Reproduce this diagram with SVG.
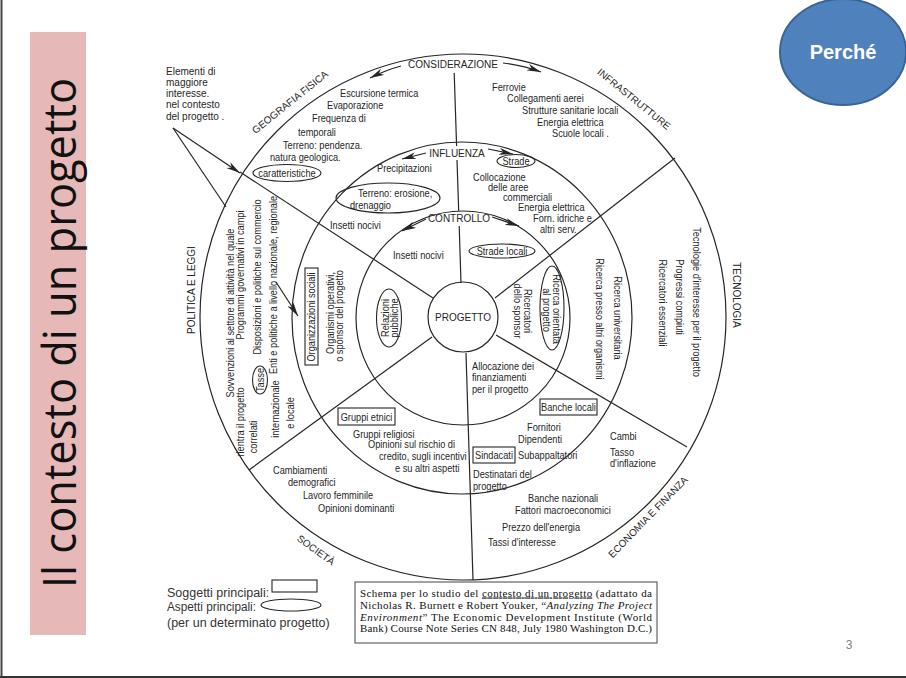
<svg xmlns="http://www.w3.org/2000/svg" width="906" height="678" viewBox="0 0 906 678">
<defs>
<style>
.n{font-family:"Liberation Sans",Arial,sans-serif;font-size:10.6px;fill:#262626}
.c{font-family:"Liberation Sans",Arial,sans-serif;font-size:10px;fill:#262626}
.m{text-anchor:middle}
.ln{fill:none;stroke:#262626;stroke-width:1.2}
.sh{fill:none;stroke:#262626;stroke-width:1.1}
.lg{font-family:"Liberation Sans",Arial,sans-serif;font-size:12.5px;fill:#333}
.cit{font-family:"Liberation Serif","Times New Roman",serif;font-size:11px;fill:#111}
</style>
<marker id="ah" viewBox="0 0 14 7" refX="14" refY="3.5" markerWidth="14" markerHeight="7" markerUnits="userSpaceOnUse" orient="auto"><path d="M0,0 L14,3.5 L0,7 L4,3.5 z" fill="#262626"/></marker>
</defs>
<rect width="906" height="678" fill="#fff"/>
<line x1="1.5" y1="0" x2="1.5" y2="678" stroke="#444" stroke-width="2"/>
<rect x="0" y="676" width="906" height="2" fill="#333"/>

<g id="title">
<rect x="30" y="32" width="56" height="603" fill="#e6b9b8"/>
<text transform="translate(76,333) rotate(-90)" text-anchor="middle" font-family="'Open Sans','Liberation Sans',sans-serif" font-size="45" fill="#111" textLength="510" lengthAdjust="spacingAndGlyphs">Il contesto di un progetto</text>
</g>

<g id="perche">
<ellipse cx="843" cy="52" rx="63" ry="53" fill="#4f81bd" stroke="#3a6495" stroke-width="2"/>
<text x="843" y="59" text-anchor="middle" font-family="'Liberation Sans',Arial,sans-serif" font-weight="bold" font-size="20" fill="#fff">Perché</text>
</g>

<g id="rings">
<circle cx="463" cy="317" r="263" class="ln"/>
<ellipse cx="462" cy="318" rx="170" ry="176" class="ln"/>
<circle cx="463" cy="318" r="107" class="ln"/>
</g>

<g id="connectors">
<path class="ln" d="M454.2,73 L456.6,146 M457,160 L458.7,211 M459.2,226 L461,283"/>
<path class="ln" d="M466,353 L473,580"/>
<path class="ln" d="M495,298 L675,158"/>
<path class="ln" d="M496,335 L687,447"/>
<path class="ln" d="M433,298 L240,172"/>
<path class="ln" d="M432,337 L249,470"/>
<path class="ln" d="M401,66 Q386,70 370,78" marker-end="url(#ah)"/>
<path class="ln" d="M503,63 Q522,65 541,72" marker-end="url(#ah)"/>
<path class="ln" d="M426,153 L402,159" marker-end="url(#ah)"/>
<path class="ln" d="M488,149 L513,154" marker-end="url(#ah)"/>
<path class="ln" d="M426,219 L402,231" marker-end="url(#ah)"/>
<path class="ln" d="M492,217 L519,226" marker-end="url(#ah)"/>
<path class="ln" d="M173,128 L240,173" marker-end="url(#ah)"/>
<path class="ln" d="M173,128 L226,207"/>
<path class="ln" d="M276,282 L298,316" marker-end="url(#ah)"/>
</g>

<g id="labels-rings">
<text class="c m" x="453" y="68" font-size="10.5">CONSIDERAZIONE</text>
<text class="c m" x="457" y="156.5" font-size="10.5">INFLUENZA</text>
<text class="c m" x="459" y="222" font-size="10.5">CONTROLLO</text>
</g>

<g id="progetto">
<circle cx="463" cy="317" r="35" class="ln" fill="#fff"/>
<text class="c m" x="463" y="321" font-size="10.5">PROGETTO</text>
</g>

<g id="note">
<text class="c" x="166" y="75">Elementi di</text>
<text class="c" x="166" y="86">maggiore</text>
<text class="c" x="166" y="97">interesse.</text>
<text class="c" x="166" y="108">nel contesto</text>
<text class="c" x="166" y="119.5">del progetto .</text>
</g>

<g id="geografia-fisica">
<text class="c m" transform="translate(290,102) rotate(-38.8)" y="3.5">GEOGRAFIA FISICA</text>
<text class="n" transform="translate(340,96.5) scale(.87,1)">Escursione termica</text>
<text class="n" transform="translate(327,108.5) scale(.87,1)">Evaporazione</text>
<text class="n" transform="translate(312,121.5) scale(.87,1)">Frequenza di</text>
<text class="n" transform="translate(298,135.5) scale(.87,1)">temporali</text>
<text class="n" transform="translate(283,148.5) scale(.87,1)">Terreno: pendenza.</text>
<text class="n" transform="translate(270,160.5) scale(.87,1)">natura geologica.</text>
<ellipse cx="287" cy="173" rx="34" ry="8.5" class="sh"/>
<text class="n m" transform="translate(287,176.5) scale(.87,1)">caratteristiche</text>
<text class="n" transform="translate(377,171.5) scale(.87,1)">Precipitazioni</text>
<ellipse cx="388" cy="198" rx="52" ry="15" class="sh"/>
<text class="n" transform="translate(358,196.5) scale(.87,1)">Terreno: erosione,</text>
<text class="n" transform="translate(350,208.5) scale(.87,1)">drenaggio</text>
<text class="n" transform="translate(330,228.5) scale(.87,1)">Insetti nocivi</text>
<text class="n" transform="translate(393,259) scale(.87,1)">Insetti nocivi</text>
</g>

<g id="infrastrutture">
<text class="c m" transform="translate(634,99) rotate(38.9)" y="3.5">INFRASTRUTTURE</text>
<text class="n" transform="translate(492,90.5) scale(.87,1)">Ferrovie</text>
<text class="n" transform="translate(507,101.5) scale(.87,1)">Collegamenti aerei</text>
<text class="n" transform="translate(522,113.5) scale(.87,1)">Strutture sanitarie locali</text>
<text class="n" transform="translate(537,125.5) scale(.87,1)">Energia elettrica</text>
<text class="n" transform="translate(552,136.5) scale(.87,1)">Scuole locali .</text>
<ellipse cx="516" cy="161" rx="19" ry="6.5" class="sh"/>
<text class="n m" transform="translate(516,164.5) scale(.87,1)">Strade</text>
<text class="n" transform="translate(473,180.5) scale(.87,1)">Collocazione</text>
<text class="n" transform="translate(488,190.5) scale(.87,1)">delle aree</text>
<text class="n" transform="translate(503,200.5) scale(.87,1)">commerciali</text>
<text class="n" transform="translate(518,210.5) scale(.87,1)">Energia elettrica</text>
<text class="n" transform="translate(533,221.5) scale(.87,1)">Forn. idriche e</text>
<text class="n" transform="translate(540,232.5) scale(.87,1)">altri serv.</text>
<ellipse cx="502" cy="251" rx="33" ry="7" class="sh"/>
<text class="n m" transform="translate(502,254.5) scale(.87,1)">Strade locali</text>
</g>

<g id="tecnologia">
<text class="c m" transform="translate(736,295) rotate(90)" y="3.5">TECNOLOGIA</text>
<text class="n m" transform="translate(528,311) rotate(90) scale(.87,1)" y="3.5">Ricercatori</text>
<text class="n m" transform="translate(518,311) rotate(90) scale(.87,1)" y="3.5">dello sponsor</text>
<ellipse cx="552" cy="308" rx="12" ry="42" class="sh"/>
<text class="n m" transform="translate(557,309) rotate(90) scale(.87,1)" y="3.5">Ricerca orientata</text>
<text class="n m" transform="translate(547,310) rotate(90) scale(.87,1)" y="3.5">al progetto</text>
<text class="n m" transform="translate(618,318) rotate(90) scale(.87,1)" y="3.5">Ricerca universitaria</text>
<text class="n m" transform="translate(600,319) rotate(90) scale(.87,1)" y="3.5">Ricerca presso altri organismi</text>
<text class="n m" transform="translate(697,302) rotate(90) scale(.87,1)" y="3.5">Tecnologie d'interesse per il progetto</text>
<text class="n m" transform="translate(680,297) rotate(90) scale(.87,1)" y="3.5">Progressi compiuti</text>
<text class="n m" transform="translate(663,303) rotate(90) scale(.87,1)" y="3.5">Ricercatori essenziali</text>
</g>

<g id="economia-finanza">
<text class="c m" transform="translate(648,517) rotate(-45.7)" y="3.5">ECONOMIA E FINANZA</text>
<text class="n" transform="translate(472,369.5) scale(.87,1)">Allocazione dei</text>
<text class="n" transform="translate(472,380.5) scale(.87,1)">finanziamenti</text>
<text class="n" transform="translate(472,392.5) scale(.87,1)">per il progetto</text>
<rect x="540" y="399" width="57" height="16" class="sh"/>
<text class="n m" transform="translate(568.5,411) scale(.87,1)">Banche locali</text>
<text class="n" transform="translate(527,430.5) scale(.87,1)">Fornitori</text>
<text class="n" transform="translate(518,442.5) scale(.87,1)">Dipendenti</text>
<rect x="473" y="447" width="42" height="16" class="sh"/>
<text class="n m" transform="translate(494,459) scale(.87,1)">Sindacati</text>
<text class="n" transform="translate(518,458.5) scale(.87,1)">Subappaltatori</text>
<text class="n" transform="translate(473,477.5) scale(.87,1)">Destinatari del</text>
<text class="n" transform="translate(473,490) scale(.87,1)">progetto</text>
<text class="n" transform="translate(610,439.5) scale(.87,1)">Cambi</text>
<text class="n" transform="translate(610,455.5) scale(.87,1)">Tasso</text>
<text class="n" transform="translate(610,466.5) scale(.87,1)">d'inflazione</text>
<text class="n" transform="translate(528,501.5) scale(.87,1)">Banche nazionali</text>
<text class="n" transform="translate(515,513.5) scale(.87,1)">Fattori macroeconomici</text>
<text class="n" transform="translate(502,530.5) scale(.87,1)">Prezzo dell'energia</text>
<text class="n" transform="translate(488,545.5) scale(.87,1)">Tassi d'interesse</text>
</g>

<g id="societa">
<text class="c m" transform="translate(316,550) rotate(36)" y="3.5">SOCIETÀ</text>
<rect x="338" y="408" width="57" height="17" class="sh"/>
<text class="n m" transform="translate(366.5,420.5) scale(.87,1)">Gruppi etnici</text>
<text class="n" transform="translate(353,437.5) scale(.87,1)">Gruppi religiosi</text>
<text class="n" transform="translate(368,447.5) scale(.87,1)">Opinioni sul rischio di</text>
<text class="n" transform="translate(379,459.5) scale(.87,1)">credito, sugli incentivi</text>
<text class="n" transform="translate(395,471.5) scale(.87,1)">e su altri aspetti</text>
<text class="n" transform="translate(273,473.5) scale(.87,1)">Cambiamenti</text>
<text class="n" transform="translate(288,485.5) scale(.87,1)">demografici</text>
<text class="n" transform="translate(303,498.5) scale(.87,1)">Lavoro femminile</text>
<text class="n" transform="translate(318,511.5) scale(.87,1)">Opinioni dominanti</text>
</g>

<g id="politica-leggi">
<text class="c m" transform="translate(191,290) rotate(-90)" y="3.5">POLITICA E LEGGI</text>
<text class="n m" transform="translate(230,313) rotate(-90) scale(.87,1)" y="3.5">Sovvenzioni al settore di attività nel quale</text>
<text class="n m" transform="translate(240,275) rotate(-90) scale(.87,1)" y="3.5">Programmi governativi in campi</text>
<text class="n m" transform="translate(240,422) rotate(-90) scale(.87,1)" y="3.5">rientra il progetto</text>
<text class="n m" transform="translate(257,277) rotate(-90) scale(.87,1)" y="3.5">Disposizioni e politiche sul commercio</text>
<text class="n m" transform="translate(253,437) rotate(-90) scale(.87,1)" y="3.5">correlati</text>
<ellipse cx="260" cy="380" rx="7.5" ry="14" class="sh"/>
<text class="n m" transform="translate(260,380) rotate(-90) scale(.87,1)" y="3.5">Tasse</text>
<text class="n m" transform="translate(273,285) rotate(-90) scale(.87,1)" y="3.5">Enti e politiche a livello nazionale, regionale</text>
<text class="n m" transform="translate(275,409) rotate(-90) scale(.87,1)" y="3.5">internazionale</text>
<text class="n m" transform="translate(290,413) rotate(-90) scale(.87,1)" y="3.5">e locale</text>
<rect x="305" y="268" width="13" height="97" class="sh"/>
<text class="n m" transform="translate(311.5,317) rotate(-90) scale(.87,1)" y="3.5">Organizzazioni sociali</text>
<text class="n m" transform="translate(330,313) rotate(-90) scale(.87,1)" y="3.5">Organismi operativi,</text>
<text class="n m" transform="translate(339,316) rotate(-90) scale(.87,1)" y="3.5">o sponsor del progetto</text>
<ellipse cx="389" cy="318" rx="12.5" ry="29" class="sh"/>
<text class="n m" transform="translate(385,318) rotate(-90) scale(.87,1)" y="3.5">Relazioni</text>
<text class="n m" transform="translate(394,318) rotate(-90) scale(.87,1)" y="3.5">pubbliche</text>
</g>

<g id="legend">
<text class="lg" x="167" y="597">Soggetti principali:</text>
<rect x="272" y="580" width="45" height="12" class="sh"/>
<text class="lg" x="167" y="611" textLength="89" lengthAdjust="spacingAndGlyphs">Aspetti principali:</text>
<ellipse cx="291" cy="605" rx="30" ry="6" class="sh"/>
<text class="lg" x="167" y="627">(per un determinato progetto)</text>
</g>

<g id="citation">
<rect x="355" y="582" width="302" height="61" fill="none" stroke="#444" stroke-width="1"/>
<text class="cit" x="360" y="596.5" textLength="292" lengthAdjust="spacing">Schema per lo studio del <tspan text-decoration="underline">contesto di un progetto</tspan> (adattato da</text>
<text class="cit" x="360" y="608.5" textLength="292" lengthAdjust="spacing">Nicholas R. Burnett e Robert Youker, “<tspan font-style="italic">Analyzing The Project</tspan></text>
<text class="cit" x="360" y="620.5" textLength="292" lengthAdjust="spacing"><tspan font-style="italic">Environment</tspan>” The Economic Development Institute (World</text>
<text class="cit" x="360" y="632" textLength="292" lengthAdjust="spacing">Bank) Course Note Series CN 848, July 1980 Washington D.C.)</text>
</g>

<text x="849" y="649" text-anchor="middle" font-family="'Liberation Sans',Arial,sans-serif" font-size="12" fill="#7f7f7f">3</text>
</svg>
